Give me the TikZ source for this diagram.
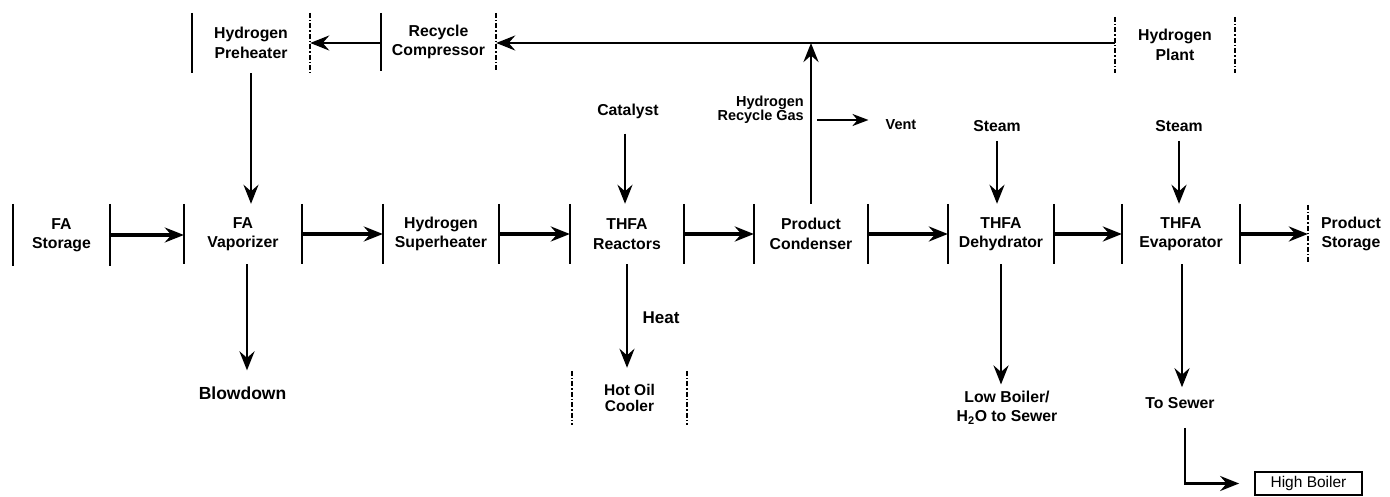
\documentclass[tikz,border=0pt]{standalone}
\usepackage{fontspec}
\setmainfont{Liberation Sans}
\usetikzlibrary{arrows.meta}
\newcommand\mylbl{\bfseries\fontsize{15.8}{19.5}\selectfont}
\tikzset{
  unit/.style={rectangle, inner sep=0pt, align=center, font=\mylbl},
  txt/.style={inner sep=0pt, align=center, font=\mylbl},
  sideS/.style={line width=1.9pt},
  sideD/.style={line width=1.6pt, dash pattern=on 5pt off 2pt on 1.5pt off 2pt},
  tip/.style={-{Stealth[length=19pt,width=15pt,inset=6.5pt]}},
  arr/.style={tip, line width=2.9pt},
  mainarr/.style={tip, line width=4.4pt},
  thinarr/.style={-{Stealth[length=16pt,width=12pt,inset=5pt]}, line width=2.3pt},
}
\begin{document}
\begin{tikzpicture}[x=1pt,y=-1pt]
\useasboundingbox[fill=white] (0,0) rectangle (1390,497);
% main row
\node[unit, minimum width=97pt, minimum height=62pt] (fas) at (61.5,235) {FA\\Storage};
\node[unit, minimum width=118pt, minimum height=60pt] (fav) at (243,234) {FA\\Vaporizer};
\node[unit, minimum width=116pt, minimum height=60pt] (sup) at (441,234) {Hydrogen\\Superheater};
\node[unit, minimum width=114pt, minimum height=60pt] (rea) at (627,234) {THFA\\Reactors};
\node[unit, minimum width=114pt, minimum height=60pt] (con) at (811,234) {Product\\Condenser};
\node[unit, minimum width=106pt, minimum height=60pt] (deh) at (1001,234) {THFA\\Dehydrator};
\node[unit, minimum width=118pt, minimum height=60pt] (eva) at (1181,234) {THFA\\Evaporator};
\node[unit, minimum width=86pt, minimum height=58pt] (pst) at (1351,234) {Product\\Storage};
% top row
\node[unit, minimum width=118pt, minimum height=60pt] (pre) at (251,43) {Hydrogen\\Preheater};
\node[unit, minimum width=115pt, minimum height=58pt] (rec) at (438.5,42) {Recycle\\Compressor};
\node[unit, minimum width=120pt, minimum height=56pt] (hpl) at (1175,45) {Hydrogen\\Plant};
% bottom
\node[unit, minimum width=115pt, minimum height=54pt, font=\bfseries\fontsize{15.5}{16.5}\selectfont] (hoc) at (629.5,398) {Hot Oil\\Cooler};
\node[unit, draw, line width=1.7pt, minimum width=107pt, minimum height=23pt, font=\fontsize{15.5}{18}\selectfont] (hib) at (1308.5,483.5) {High Boiler};
% labels
\node[txt] (cat) at (628,111) {Catalyst};
\node[txt, align=right, anchor=east, font=\bfseries\fontsize{14.5}{14.5}\selectfont] (hrg) at (804,110) {Hydrogen\\Recycle Gas};
\node[txt, font=\bfseries\fontsize{14.5}{17}\selectfont] (vent) at (901,125) {Vent};
\node[txt] (st1) at (997,126) {Steam};
\node[txt] (st2) at (1179,126) {Steam};
\node[txt, font=\bfseries\fontsize{17.5}{20}\selectfont] (blow) at (242.5,393) {Blowdown};
\node[txt, font=\bfseries\fontsize{17}{20}\selectfont] (heat) at (661,318) {Heat};
\node[txt] (lowb) at (1007,407.5) {Low Boiler/\\H\textsubscript{2}O to Sewer};
\node[txt] (tosew) at (1180,403) {To Sewer};
% box sides
\foreach \n in {fas,fav,sup,rea,con,deh,eva,pre,rec}
  \draw[sideS] (\n.north west) -- (\n.south west);
\foreach \n in {fas,fav,sup,rea,con,deh,eva}
  \draw[sideS] (\n.north east) -- (\n.south east);
\foreach \n in {pre,rec,hpl,hoc}
  \draw[sideD] (\n.north east) -- (\n.south east);
\foreach \n in {hpl,hoc,pst}
  \draw[sideD] (\n.north west) -- (\n.south west);
% main flow
\draw[mainarr] (fas.east) -- (fas.east -| fav.west);
\draw[mainarr] (fav.east) -- (sup.west);
\draw[mainarr] (sup.east) -- (rea.west);
\draw[mainarr] (rea.east) -- (con.west);
\draw[mainarr] (con.east) -- (deh.west);
\draw[mainarr] (deh.east) -- (eva.west);
\draw[mainarr] (eva.east) -- (pst.west);
% recycle loop
\draw[arr, line width=2.4pt] (hpl.west |- 0,43) -- (rec.east |- 0,43);
\draw[arr] (rec.west |- 0,43) -- (pre.east |- 0,43);
\draw[arr] (con.north) -- (con.north |- 0,43);
\draw[arr] (pre.south) -- (pre.south |- fav.north);
\coordinate (v0) at (817,120);
\draw[thinarr] (v0) -- ([xshift=-17pt,yshift=5pt]vent.west);
% feeds
\draw[arr, shorten <=15pt] ([xshift=-3pt]cat.south) -- ([xshift=-3pt]cat.south |- rea.north);
\draw[arr, shorten <=9pt] (st1.south) -- (st1.south |- deh.north);
\draw[arr, shorten <=9pt] (st2.south) -- (st2.south |- eva.north);
% outputs
\draw[arr, shorten >=16pt] ([xshift=4pt]fav.south) -- ([xshift=4pt]fav.south |- blow.north);
\draw[arr, shorten >=3pt] (rea.south) -- (rea.south |- hoc.north);
\draw[arr, shorten >=6pt] (deh.south) -- (deh.south |- lowb.north);
\draw[arr, shorten >=10pt] ([xshift=1pt]eva.south) -- ([xshift=1pt]eva.south |- tosew.north);
\draw[arr, shorten <=19pt, shorten >=15pt] ([xshift=5pt]tosew.south) |- (hib.west);
\end{tikzpicture}
\end{document}
